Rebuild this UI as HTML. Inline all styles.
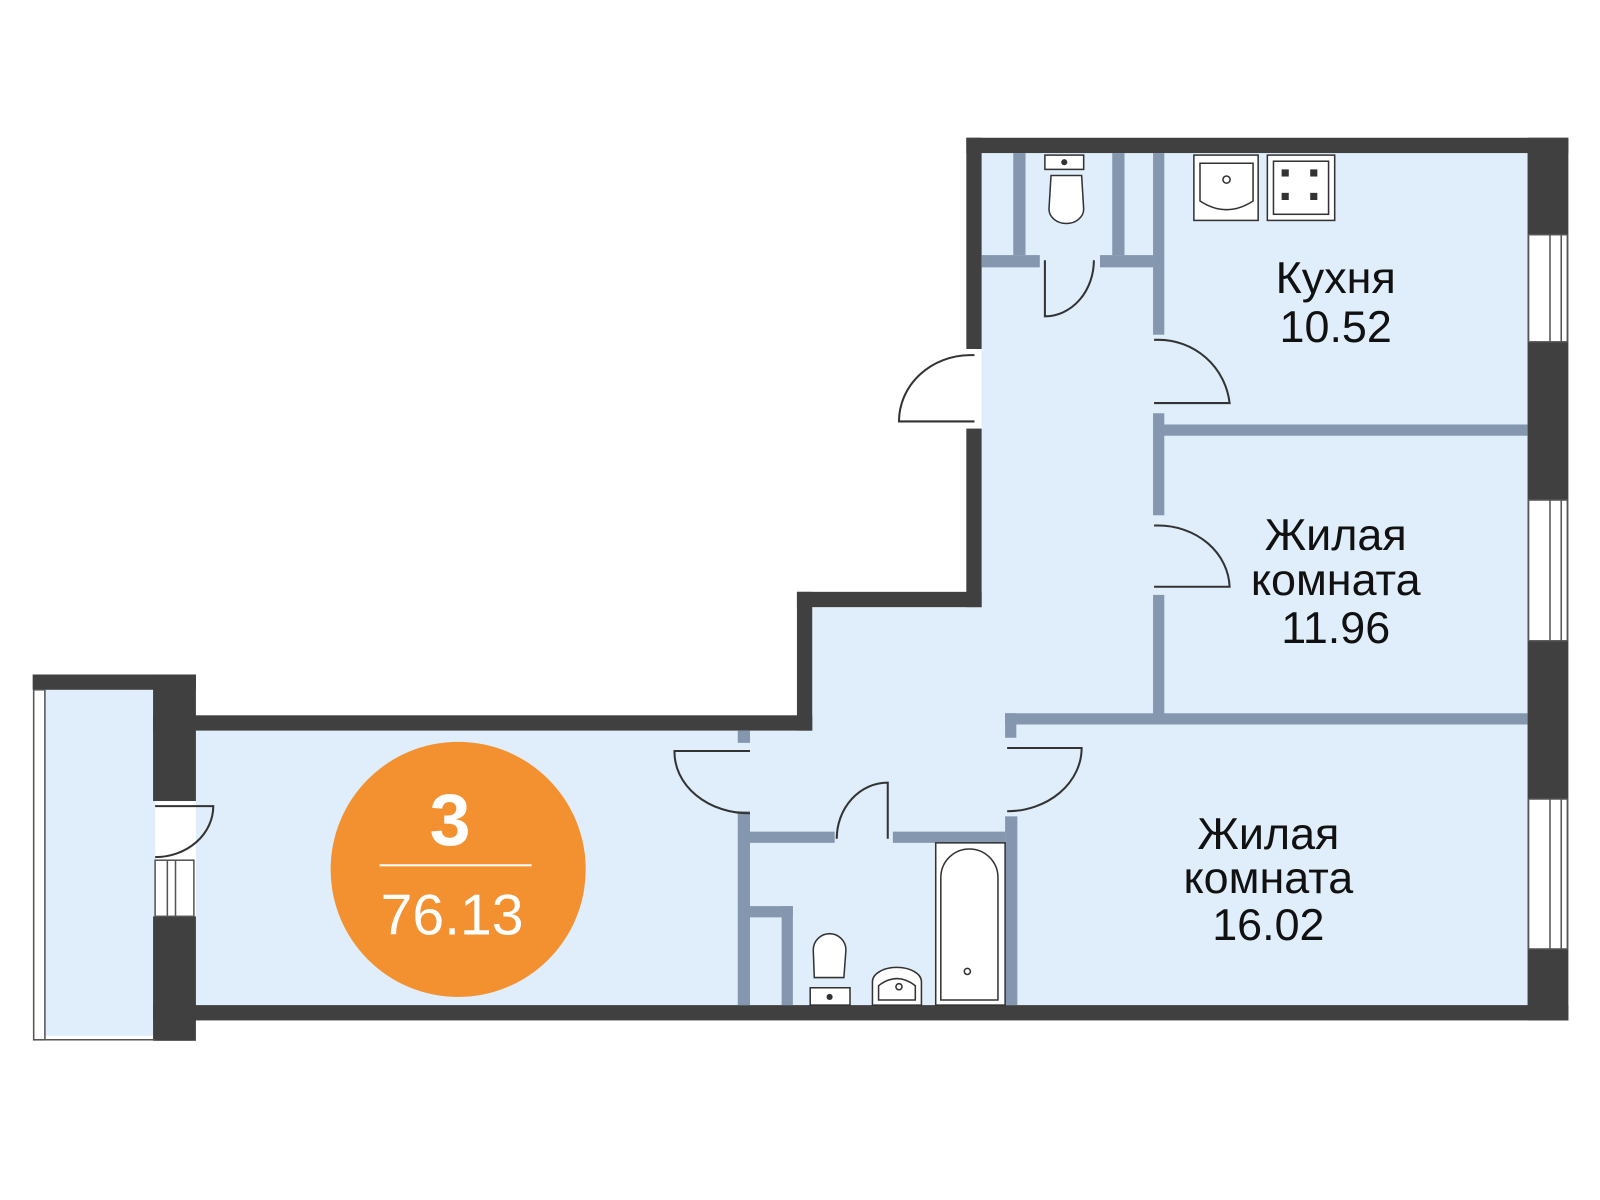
<!DOCTYPE html><html><head><meta charset="utf-8"><style>body{margin:0;background:#fff}svg{display:block}text{font-family:"Liberation Sans",sans-serif}</style></head><body>
<svg width="1600" height="1200" viewBox="0 0 1568 1176" xmlns="http://www.w3.org/2000/svg">
<path d="M962 150 H1497 V985 H192 V716 H796 V595 H962 Z" fill="#dfeefa"/>
<rect x="44" y="676" width="108" height="339" fill="#dfeefa"/>
<g fill="#404040">
<rect x="947" y="135" width="590" height="15"/>
<rect x="1497" y="135" width="40" height="865"/>
<rect x="150" y="985" width="1387" height="15"/>
<rect x="947" y="135" width="15" height="207"/>
<rect x="947" y="420" width="15" height="175"/>
<rect x="781" y="580" width="181" height="15"/>
<rect x="781" y="580" width="15" height="136"/>
<rect x="150" y="701" width="646" height="15"/>
<rect x="32" y="661" width="160" height="15"/>
<rect x="150" y="661" width="42" height="124"/>
<rect x="150" y="898" width="42" height="122"/>
</g>
<g fill="#fff" stroke="#555" stroke-width="1.5">
<rect x="1498" y="230" width="38" height="105"/><line x1="1519" y1="230" x2="1519" y2="335"/><line x1="1530" y1="230" x2="1530" y2="335"/>
<rect x="1498" y="490" width="38" height="138"/><line x1="1519" y1="490" x2="1519" y2="628"/><line x1="1530" y1="490" x2="1530" y2="628"/>
<rect x="1498" y="783" width="38" height="147"/><line x1="1519" y1="783" x2="1519" y2="930"/><line x1="1530" y1="783" x2="1530" y2="930"/>
<rect x="152" y="843" width="38" height="55"/><line x1="164" y1="843" x2="164" y2="898"/><line x1="172" y1="843" x2="172" y2="898"/>
<rect x="33" y="676" width="11" height="343"/>
<line x1="33" y1="1019" x2="152" y2="1019"/>
</g>
<g fill="#8497ae">
<rect x="1130" y="150" width="11" height="178"/>
<rect x="1130" y="405" width="11" height="100"/>
<rect x="1130" y="583" width="11" height="117"/>
<rect x="1135" y="416" width="362" height="11"/>
<rect x="985" y="699" width="512" height="11"/>
<rect x="985" y="699" width="11" height="24"/>
<rect x="993" y="150" width="12" height="100"/>
<rect x="1090" y="150" width="12" height="100"/>
<rect x="962" y="250" width="57" height="12"/>
<rect x="1078" y="250" width="52" height="12"/>
<rect x="723" y="795" width="12" height="190"/>
<rect x="723" y="716" width="12" height="12"/>
<rect x="735" y="815" width="83" height="11"/>
<rect x="875" y="815" width="110" height="11"/>
<rect x="985" y="800" width="12" height="185"/>
<rect x="735" y="888" width="42" height="11"/>
<rect x="766" y="888" width="11" height="97"/>
</g>
<g fill="none" stroke="#333" stroke-width="2">
<path d="M1131 333 H1135 A70 70 0 0 1 1205 395 H1131"/>
<path d="M1131 515 H1135 A70 62 0 0 1 1205 575 H1131"/>
<path d="M1024 255 V310 A48 55 0 0 0 1072 255"/>
<path d="M955 348 H950 A70 65 0 0 0 881 413 H955"/>
<path d="M735 736 H661 A73 60 0 0 0 735 797"/>
<path d="M987 733 H1060 A73 62 0 0 1 987 795"/>
<path d="M820 822 A50 55 0 0 1 870 767 V822"/>
<path d="M152 790 H209 A57 50 0 0 1 152 840"/>
</g>
<g fill="#fff" stroke="#333" stroke-width="1.5">
<rect x="1024" y="152" width="38" height="14"/>
<path d="M1030 172 H1060 L1062 205 A17 14 0 0 1 1028 205 Z"/>
<rect x="1170" y="152" width="63" height="64"/><path d="M1176 160 H1228 V197 Q1202 214 1176 197 Z"/>
<rect x="1242" y="152" width="66" height="64"/><rect x="1248" y="158" width="54" height="52"/>
<rect x="917" y="826" width="68" height="159"/><path d="M922 980 V860 A28 28 0 0 1 978 860 V980 Z"/>
<path d="M813 915 A16 16 0 0 1 829 931 L827 958 H798 L797 931 A16 16 0 0 1 813 915 Z"/>
<rect x="794" y="968" width="39" height="17"/>
<path d="M855 985 V962 A24 14 0 0 1 903 962 V985 Z"/><path d="M861 980 V966 Q879 952 897 966 V980 Z"/>
<circle cx="1202" cy="176" r="3.5"/><circle cx="948" cy="952" r="3"/><circle cx="881" cy="967" r="3"/>
</g>
<g fill="#333"><circle cx="1043" cy="159" r="3"/><circle cx="813" cy="977" r="3"/>
<rect x="1256" y="166" width="7" height="7"/><rect x="1284" y="166" width="7" height="7"/><rect x="1256" y="189" width="7" height="7"/><rect x="1284" y="189" width="7" height="7"/></g>
<circle cx="449" cy="852" r="125" fill="#f39130"/>
<text x="441" y="828" font-size="72" font-weight="bold" fill="#fff" text-anchor="middle">3</text>
<rect x="372" y="847" width="149" height="2" fill="#fff"/>
<text x="443" y="916" font-size="56" fill="#fff" text-anchor="middle">76.13</text>
<g font-size="44" fill="#111" text-anchor="middle">
<text x="1309" y="287">Кухня</text><text x="1309" y="335">10.52</text>
<text x="1309" y="539">Жилая</text><text x="1309" y="583">комната</text><text x="1309" y="630">11.96</text>
<text x="1243" y="832">Жилая</text><text x="1243" y="875">комната</text><text x="1243" y="921">16.02</text>
</g>
</svg></body></html>
